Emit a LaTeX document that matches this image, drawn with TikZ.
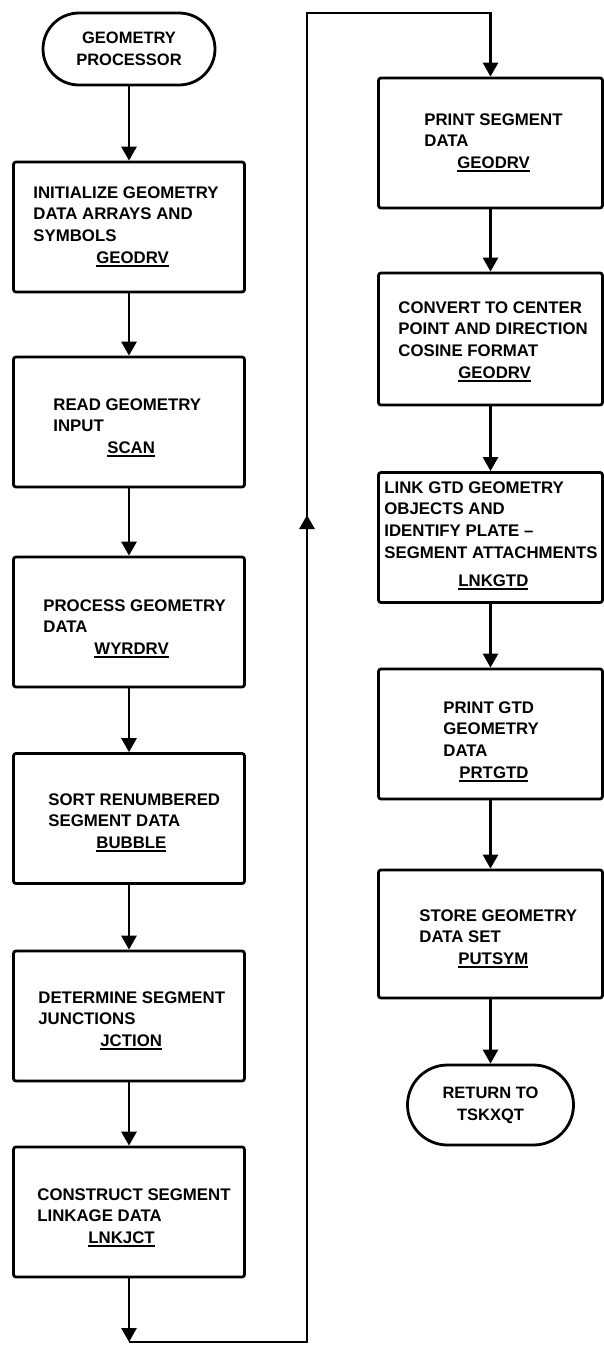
\documentclass[tikz,border=0pt]{standalone}
\usepackage{fontspec}
\setmainfont{Liberation Sans}
\usetikzlibrary{arrows.meta}
\newcommand\ulname[1]{\setbox0\hbox{#1}\rlap{\rule[-3.4pt]{\wd0}{1.8pt}}\box0}
\begin{document}
\begin{tikzpicture}[x=1pt,y=-1pt,line width=2.8pt,
  box/.style={draw, rounded corners=2.5pt, inner sep=0pt, minimum height=130pt},
  lbox/.style={box, minimum width=231pt},
  rbox/.style={box, minimum width=224pt},
  term/.style={draw, rounded corners=36pt, align=center, inner sep=0pt,
    font=\fontsize{16.5}{22}\selectfont\bfseries},
  txt/.style={anchor=north west, inner sep=0pt, align=left,
    font=\fontsize{16.8}{21.8}\selectfont\bfseries},
  arr/.style={-{Triangle[length=14pt,width=15pt]}},
]
\useasboundingbox (0,0) rectangle (604,1347);

% left column
\node[term, minimum width=172pt, minimum height=72pt] (start) at (129,49) {GEOMETRY\\PROCESSOR};
\node[lbox] (b1) at (129,227) {};
\node[lbox] (b2) at (129,422) {};
\node[lbox] (b3) at (129,622) {};
\node[lbox] (b4) at (129,818.5) {};
\node[lbox] (b5) at (129,1016) {};
\node[lbox] (b6) at (129,1212) {};

% right column
\node[rbox] (b7) at (490.5,143) {};
\node[rbox, minimum height=132pt] (b8) at (490.5,339) {};
\node[rbox] (b9) at (490.5,537.5) {};
\node[rbox] (b10) at (490.5,734) {};
\node[rbox, minimum height=128pt] (b11) at (490.5,934) {};
\node[term, rounded corners=40pt, minimum width=166pt, minimum height=80pt] (ret) at (490.5,1105) {RETURN TO\\TSKXQT};

% texts
\node[txt] (t1) at (32,185) {INITIALIZE GEOMETRY\\DATA ARRAYS AND\\SYMBOLS\\\hspace*{63pt}\ulname{GEODRV}};
\node[txt] (t2) at (52,397) {READ GEOMETRY\\INPUT\\\hspace*{54pt}\ulname{SCAN}};
\node[txt] (t3) at (42,598) {PROCESS GEOMETRY\\DATA\\\hspace*{51pt}\ulname{WYRDRV}};
\node[txt] (t4) at (47,792) {SORT RENUMBERED\\SEGMENT DATA\\\hspace*{48pt}\ulname{BUBBLE}};
\node[txt] (t5) at (37,990) {DETERMINE SEGMENT\\JUNCTIONS\\\hspace*{62pt}\ulname{JCTION}};
\node[txt] (t6) at (36,1187) {CONSTRUCT SEGMENT\\LINKAGE DATA\\\hspace*{51pt}\ulname{LNKJCT}};
\node[txt] (t7) at (423,112) {PRINT SEGMENT\\DATA\\\hspace*{33pt}\ulname{GEODRV}};
\node[txt] (t8) at (397,300) {CONVERT TO CENTER\\POINT AND DIRECTION\\COSINE FORMAT\\\hspace*{60pt}\ulname{GEODRV}};
\node[txt] (t9) at (383,480) {LINK GTD GEOMETRY\\OBJECTS AND\\IDENTIFY PLATE --\\SEGMENT ATTACHMENTS\\[6pt]\hspace*{74pt}\ulname{LNKGTD}};
\node[txt] (t10) at (442,700) {PRINT GTD\\GEOMETRY\\DATA\\\hspace*{16pt}\ulname{PRTGTD}};
\node[txt] (t11) at (418,908) {STORE GEOMETRY\\DATA SET\\\hspace*{39pt}\ulname{PUTSYM}};

% connectors
\draw[arr] (start) -- (b1);
\draw[arr] (b1) -- (b2);
\draw[arr] (b2) -- (b3);
\draw[arr] (b3) -- (b4);
\draw[arr] (b4) -- (b5);
\draw[arr] (b5) -- (b6);
\coordinate (c1) at (129,1342);
\coordinate (c2) at (307,1342);
\coordinate (c3) at (307,13);
\coordinate (c4) at (490.5,13);
\coordinate (cu) at (307,515);
\draw[arr] (b6) -- (c1);
\draw[arr, line join=miter] (c1) -- (c2) -- (c3) -- (c4) -- (b7);
\draw[arr] (c2) -- (cu);
\draw[arr] (b7) -- (b8);
\draw[arr] (b8) -- (b9);
\draw[arr] (b9) -- (b10);
\draw[arr] (b10) -- (b11);
\draw[arr] (b11) -- (ret);
\end{tikzpicture}
\end{document}
